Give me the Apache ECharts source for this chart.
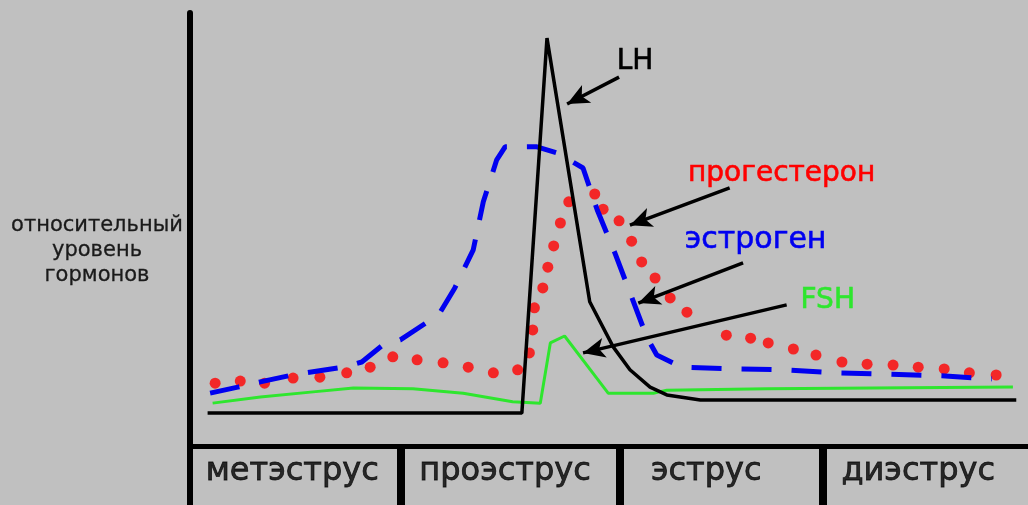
<!DOCTYPE html>
<html>
<head>
<meta charset="utf-8">
<script src="https://cdn.jsdelivr.net/npm/echarts@6/dist/echarts.min.js"></script>
<style>
    html, body { margin: 0; padding: 0; background: #c0c0c0; }
    #chart { width: 1028px; height: 505px; }
</style>
</head>
<body>
<div id="chart"></div>
<script>
// relative units: x = time through the cycle (0..100), y = relative hormone level (0..100)
const phases = ['метэструс', 'проэструс', 'эструс', 'диэструс'];
const phaseLabelX = [12.2, 37.6, 61.6, 86.9];
const phaseBounds = [25.1, 51.3, 75.5];

const lh = [
    [2.1, 7.6], [39.6, 7.6], [42.6, 94.2], [47.7, 33.3], [50.5, 22.9], [52.5, 17.6],
    [54.9, 13.6], [56.9, 11.8], [60.9, 10.6], [98.6, 10.6]
];
const estrogen = [
    [2.4, 12.2], [5.7, 13.6], [8.4, 14.8], [12.2, 16.4], [18.3, 18.2], [20.5, 19.4],
    [23.0, 23.3], [25.1, 24.5], [28.3, 28.6], [29.8, 30.7], [31.6, 36.5], [33.8, 45.3],
    [35.0, 56.4], [36.6, 66.1], [37.6, 69.1], [41.4, 69.1], [43.8, 67.7], [46.9, 64.2],
    [48.6, 54.5], [50.7, 44.6], [52.7, 34.4], [54.5, 25.2], [55.7, 21.0], [58.7, 18.2],
    [64.8, 17.8], [71.0, 17.6], [77.2, 16.9], [83.3, 16.6], [89.7, 16.2], [95.7, 15.5]
];
const progesterone = [
    [3.0, 14.5], [6.0, 15.0], [8.9, 14.5], [12.3, 15.7], [15.5, 15.9], [18.7, 16.9],
    [21.5, 18.2], [24.2, 20.6], [27.1, 19.9], [30.2, 19.2], [33.2, 18.2], [36.2, 16.9],
    [39.1, 17.6], [40.5, 21.5], [40.9, 26.8], [41.1, 31.9], [42.1, 36.5], [42.7, 41.3],
    [43.4, 46.2], [44.2, 51.5], [45.2, 56.4], [48.3, 58.2], [49.3, 54.7], [51.2, 52.0],
    [52.7, 47.3], [53.9, 42.5], [55.5, 38.8], [57.3, 34.2], [59.3, 30.9], [64.0, 25.6],
    [66.9, 24.9], [69.0, 23.8], [72.0, 22.4], [74.7, 21.0], [77.8, 19.4], [80.8, 18.9],
    [83.9, 18.7], [86.9, 18.2], [90.0, 17.8], [93.0, 16.9], [96.2, 16.4]
];
const fsh = [
    [2.7, 9.9], [8.4, 11.3], [14.7, 12.5], [19.5, 13.4], [26.6, 13.2], [32.6, 12.2],
    [38.5, 10.2], [41.8, 9.9], [43.0, 23.8], [44.7, 25.4], [49.9, 12.2], [55.3, 12.2],
    [56.9, 12.9], [68.9, 13.2], [98.2, 13.6]
];

// annotations: label text, label anchor, arrow tail -> arrow tip
const noteLabels = ['LH', 'прогестерон', 'эстроген', 'FSH'];
const notePos = [[53.1, 88.7], [70.6, 62.8], [67.5, 47.6], [76.1, 33.5]];
const noteArrows = [
    [[51.2, 85.2], [45.0, 79.0]],
    [[64.4, 59.6], [52.5, 51.0]],
    [[66.0, 42.3], [53.5, 33.0]],
    [[71.2, 32.6], [46.9, 21.5]]
];

const font = 'DejaVu Sans';

function hiddenAxis(gridIndex) {
    return {
        type: 'value',
        gridIndex: gridIndex,
        min: 0,
        max: 100,
        axisTick: { show: false },
        axisLabel: { show: false },
        splitLine: { show: false }
    };
}

function note(i, color, size) {
    return {
        markLine: {
            silent: true,
            symbol: ['none', 'arrow'],
            symbolSize: [15, 22],
            label: { show: false },
            itemStyle: { color: '#000' },
            lineStyle: { color: '#000', width: 3.5, type: 'solid' },
            data: [[{ coord: noteArrows[i][0] }, { coord: noteArrows[i][1] }]]
        },
        markPoint: {
            silent: true,
            symbol: 'circle',
            symbolSize: 0,
            label: {
                show: true,
                position: 'inside',
                formatter: '{b}',
                color: color,
                textBorderColor: color,
                textBorderWidth: 0.6,
                fontFamily: font,
                fontSize: size
            },
            data: [{ name: noteLabels[i], coord: notePos[i] }]
        }
    };
}

const chart = echarts.init(document.getElementById('chart'));

chart.setOption({
    animation: false,
    backgroundColor: '#c0c0c0',
    grid: [
        { left: 190, right: 0, top: 13, bottom: 59 },
        { left: 190, right: 0, top: 446, bottom: 0 }
    ],
    xAxis: [
        Object.assign(hiddenAxis(0), {
            axisLine: { show: true, onZero: false, lineStyle: { color: '#000', width: 5 } }
        }),
        Object.assign(hiddenAxis(1), { axisLine: { show: false } })
    ],
    yAxis: [
        Object.assign(hiddenAxis(0), {
            axisLine: { show: true, onZero: false, lineStyle: { color: '#000', width: 6 } }
        }),
        Object.assign(hiddenAxis(1), {
            axisLine: { show: true, onZero: false, lineStyle: { color: '#000', width: 6 } }
        })
    ],
    graphic: [
        {
            type: 'text',
            x: 97,
            y: 213,
            style: {
                text: 'относительный\nуровень\nгормонов',
                align: 'center',
                verticalAlign: 'top',
                fontFamily: font,
                fontSize: 21,
                lineHeight: 25,
                fill: '#1a1a1a',
                stroke: '#1a1a1a',
                lineWidth: 0.3
            }
        }
    ],
    series: [
        Object.assign({
            name: 'FSH',
            type: 'line',
            data: fsh,
            symbol: 'none',
            lineStyle: { color: '#2ee62e', width: 3 }
        }, note(3, '#2ee62e', 28)),
        Object.assign({
            name: 'эстроген',
            type: 'line',
            data: estrogen,
            symbol: 'none',
            lineStyle: { color: '#0000f0', width: 5, type: [30, 20] }
        }, note(2, '#0000f0', 30)),
        Object.assign({
            name: 'LH',
            type: 'line',
            data: lh,
            symbol: 'none',
            lineStyle: { color: '#000', width: 3.5 }
        }, note(0, '#000', 28)),
        Object.assign({
            name: 'прогестерон',
            type: 'scatter',
            data: progesterone,
            symbol: 'circle',
            symbolSize: 11,
            itemStyle: { color: '#ff0000' }
        }, note(1, '#ff0000', 28)),
        {
            name: 'фазы',
            type: 'scatter',
            xAxisIndex: 1,
            yAxisIndex: 1,
            symbolSize: 0,
            silent: true,
            data: phases.map((p, i) => ({ name: p, value: [phaseLabelX[i], 56] })),
            label: {
                show: true,
                position: 'inside',
                formatter: '{b}',
                color: '#000',
                textBorderColor: '#000',
                textBorderWidth: 0.8,
                fontFamily: font,
                fontSize: 32
            },
            markLine: {
                silent: true,
                symbol: 'none',
                label: { show: false },
                lineStyle: { color: '#000', width: 8, type: 'solid' },
                data: phaseBounds.map(x => ({ xAxis: x }))
            }
        }
    ]
});
</script>
</body>
</html>
